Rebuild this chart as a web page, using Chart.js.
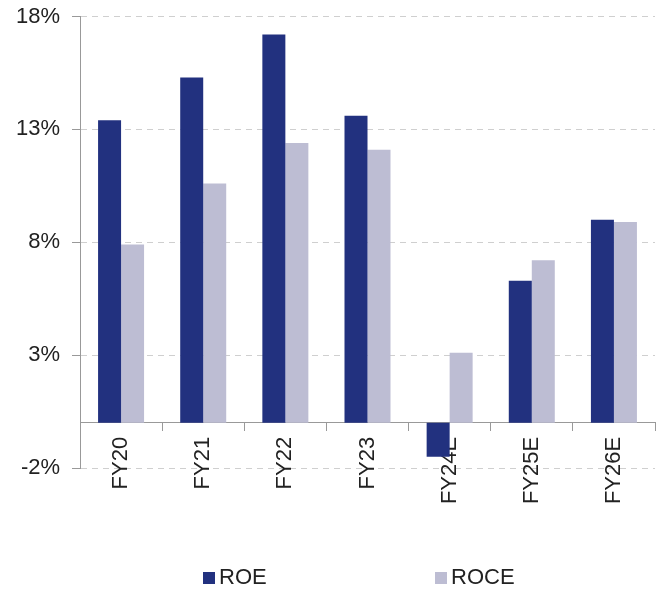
<!DOCTYPE html>
<html>
<head>
<meta charset="utf-8">
<script src="https://cdn.jsdelivr.net/npm/chart.js@4.4.0/dist/chart.umd.min.js"></script>
<style>
html,body{margin:0;padding:0;background:#fff;}
</style>
</head>
<body>
<canvas id="roeChart" width="665" height="590"></canvas>
<script>
const years = ["FY20","FY21","FY22","FY23","FY24E","FY25E","FY26E"];
const roe = [13.4,15.3,17.2,13.6,-1.5,6.3,9.0];
const roce = [7.9,10.6,12.4,12.1,3.1,7.2,8.9];
const yTicks = [-2,3,8,13,18];

const FONT = '"Liberation Sans", Arial, sans-serif';

// legend drawn under the labels, items spread wide like the original
const bottomLegend = {
  id:"bottomLegend",
  afterDraw(chart){
    const ctx = chart.ctx;
    const spots = [203,435];
    ctx.save();
    ctx.font = "22px " + FONT;
    ctx.textBaseline = "alphabetic";
    chart.data.datasets.forEach((ds,i)=>{
      const x = spots[i];
      ctx.fillStyle = ds.backgroundColor;
      ctx.fillRect(x,572,12,12);
      ctx.fillStyle = "#222";
      ctx.fillText(ds.label,x+16,584);
    });
    ctx.restore();
  }
};

new Chart(document.getElementById("roeChart"),{
  type:"bar",
  data:{
    labels:years,
    datasets:[
      { label:"ROE", data:roe, backgroundColor:"#22317f" },
      { label:"ROCE", data:roce, backgroundColor:"#bdbdd3" }
    ]
  },
  options:{
    responsive:false,
    animation:false,
    layout:{ padding:{ top:16.5, right:10, bottom:122, left:0 } },
    datasets:{ bar:{ categoryPercentage:0.56, barPercentage:1.0 } },
    plugins:{ legend:{ display:false }, tooltip:{ enabled:false } },
    scales:{
      x:{
        position:{ y:0 },
        grid:{ display:true, drawOnChartArea:false, drawTicks:true, tickLength:8, color:"#999", offset:true },
        border:{ display:true, color:"#999", width:1 },
        ticks:{ minRotation:90, maxRotation:90, padding:6, color:"#222", font:{ family:FONT, size:22 } }
      },
      y:{
        min:-2, max:18,
        afterFit:s=>{ s.width = 80; s.paddingTop = 0; s.paddingBottom = 0; },
        afterBuildTicks:s=>{ s.ticks = yTicks.map(v=>({ value:v })); },
        grid:{ color:"#cfcfcf", tickColor:"#999", tickLength:8, tickBorderDash:[] },
        border:{ display:true, color:"#999", width:1, dash:[6,5] },
        ticks:{ padding:12, color:"#222", font:{ family:FONT, size:22 }, callback:v=>v+"%" }
      }
    }
  },
  plugins:[bottomLegend]
});
</script>
</body>
</html>
